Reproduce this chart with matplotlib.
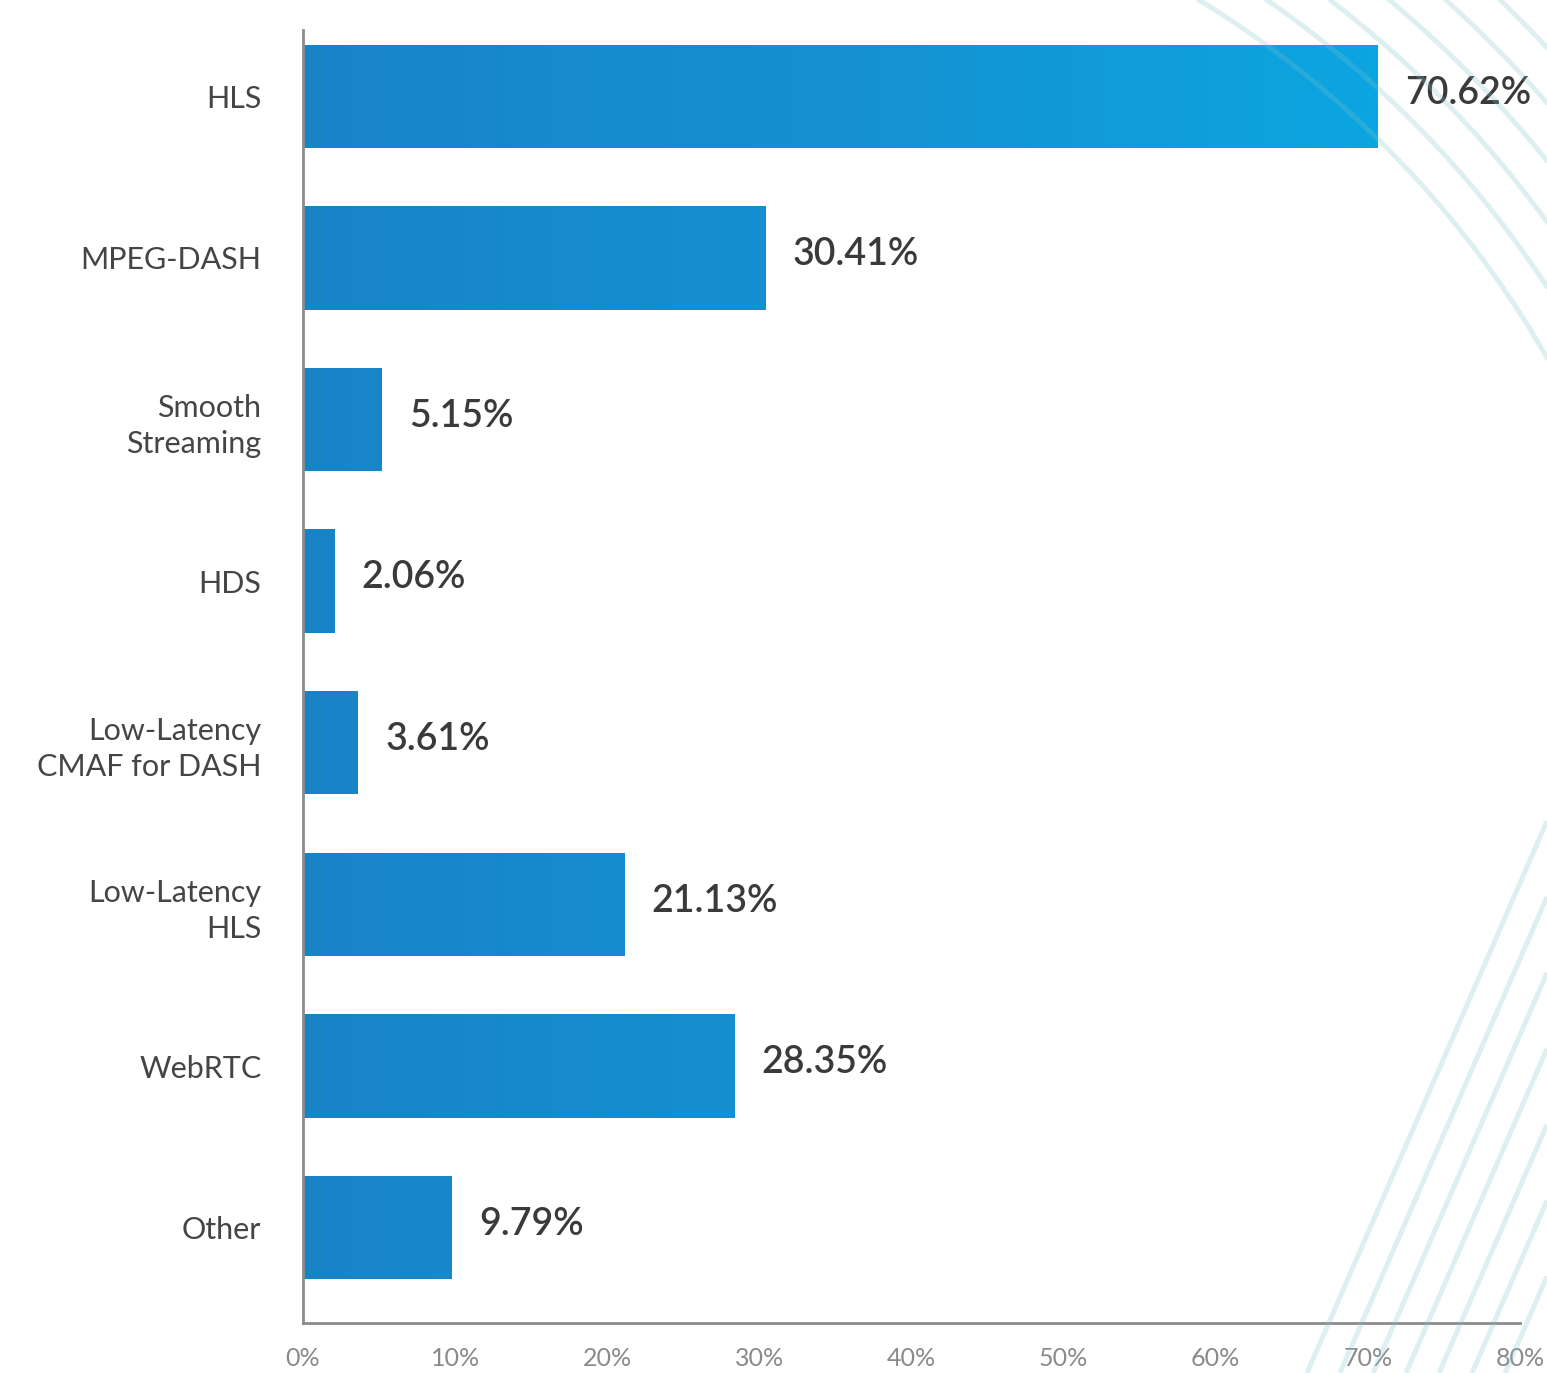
import numpy as np
import matplotlib
matplotlib.use("Agg")
import matplotlib.pyplot as plt
from matplotlib.colors import LinearSegmentedColormap

plt.rcParams.update({
    "font.family": ["Lato", "DejaVu Sans"],
})

protocols = ["HLS", "MPEG-DASH", "Smooth\nStreaming", "HDS",
             "Low-Latency\nCMAF for DASH", "Low-Latency\nHLS", "WebRTC", "Other"]
shares = [70.62, 30.41, 5.15, 2.06, 3.61, 21.13, 28.35, 9.79]
xticks = [0, 10, 20, 30, 40, 50, 60, 70, 80]

W, H = 1547, 1373
fig = plt.figure(figsize=(W / 100, H / 100), dpi=100)
fig.patch.set_facecolor("white")
ax = fig.add_axes([303 / W, 1 - 1323 / H, (1520 - 303) / W, (1323 - 30) / H])

# horizontal gradient shared by all bars: deeper blue at 0, cyan toward 75%
grad = LinearSegmentedColormap.from_list("bar", ["#1884c7", "#1592d2", "#0aa8e3"])
ypos = np.arange(len(protocols))
bars = ax.barh(ypos, shares, height=0.64, color="none", edgecolor="none", zorder=2)
ramp = np.linspace(0, 1, 256).reshape(1, -1)
for b in bars:
    y0, h = b.get_y(), b.get_height()
    im = ax.imshow(ramp, cmap=grad, aspect="auto", extent=(0, 75, y0 + h, y0),
                   vmin=0, vmax=1, zorder=2)
    im.set_clip_path(b)

for y, v in zip(ypos, shares):
    ax.text(v + 1.8, y - 0.02, f"{v:.2f}%", ha="left", va="center",
            fontsize=27, fontweight="semibold", color="#3a3a3a", zorder=4)

ax.set_xlim(0, 80)
ax.set_ylim(7.59, -0.41)
ax.set_xticks(xticks)
ax.set_xticklabels([f"{t}%" for t in xticks], fontsize=18, color="#8a8a8a")
ax.set_yticks(ypos)
ax.set_yticklabels(protocols, fontsize=22, color="#454545", linespacing=1.35)
ax.tick_params(axis="both", length=0)
ax.tick_params(axis="x", pad=17)
ax.tick_params(axis="y", pad=30)
for s in ["top", "right"]:
    ax.spines[s].set_visible(False)
for s in ["left", "bottom"]:
    ax.spines[s].set_color("#8c8c8c")
    ax.spines[s].set_linewidth(2)
ax.set_facecolor("none")

# faint decorative line work in the right margin, drawn in pixel space
deco = fig.add_axes([0, 0, 1, 1], zorder=5)
deco.set_xlim(0, W)
deco.set_ylim(H, 0)
deco.axis("off")
deco.patch.set_alpha(0)
line_kw = dict(color="#7fc3cf", alpha=0.25, linewidth=3.6, solid_capstyle="butt")

cx, cy = 676, 857
theta = np.linspace(-np.pi / 2, 0, 400)
for r in [1004, 1041, 1078, 1115, 1152, 1189]:
    deco.plot(cx + r * np.cos(theta), cy + r * np.sin(theta), **line_kw)

for x0 in [1307, 1340, 1373, 1406, 1439, 1472, 1505]:
    deco.plot([x0, W], [H, H - (W - x0) * 2.3], **line_kw)

fig.savefig("out.png", dpi=100, facecolor="white")
